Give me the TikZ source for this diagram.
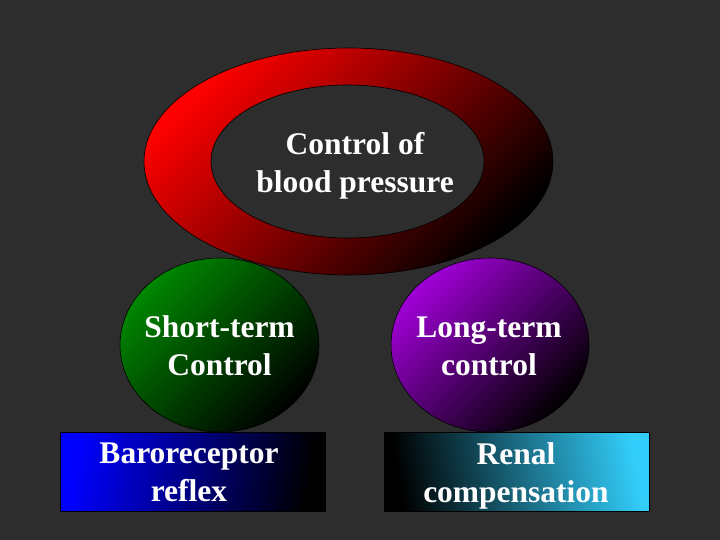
\documentclass[tikz,border=0pt]{standalone}
\usepackage{fontspec}
\setmainfont{Liberation Serif}
\usetikzlibrary{calc}
\definecolor{slidebg}{RGB}{45,45,45}
\definecolor{ringred}{RGB}{255,0,0}
\definecolor{shortgreen}{RGB}{0,135,0}
\definecolor{longpurple}{RGB}{160,0,215}
\definecolor{barblue}{RGB}{0,0,255}
\definecolor{renalcyan}{RGB}{50,205,250}
\tikzstyle{every node}=[font=\fontsize{31.5}{38}\selectfont\bfseries,text=white,align=center,inner sep=0pt]
\tikzstyle{every path}=[line width=0.6pt,line join=round]
\tikzstyle{outline}=[draw=black]

\begin{document}
\begin{tikzpicture}[x=1pt,y=-1pt]
    % Slide background
    \fill[slidebg] (0,0) rectangle (720,540);
    \useasboundingbox (0,0) rectangle (720,540);

    % Define named coordinates
    \coordinate (ring) at (348.5,161.5);
    \coordinate (hole) at (347.5,161.5);
    \coordinate (short) at (219.5,345);
    \coordinate (long) at (490,345);

    % Red ring with the title inside
    \shade[outline,top color=ringred,middle color=ringred!72!black,bottom color=black,shading angle=45]
    (ring) ellipse [x radius=204.5,y radius=113.5];
    \filldraw[fill=slidebg,draw=black] (hole) ellipse [x radius=136.5,y radius=76.5];
    \node (bp) at (355,166) {Control of\\blood pressure};

    % Short-term and long-term balls
    \shade[outline,top color=shortgreen,bottom color=black,shading angle=45]
    (short) ellipse [x radius=99.5,y radius=87];
    \shade[outline,top color=longpurple,bottom color=black,shading angle=45]
    (long) ellipse [x radius=99,y radius=87];
    \node (st) at (219.5,346) {Short-term\\Control};
    \node (lt) at (489,346) {Long-term\\control};

    % Mechanism boxes
    \shade[outline,left color=barblue,right color=black,shading angle=80]
    (60,432) rectangle (325,511);
    \shade[outline,left color=black,right color=renalcyan,shading angle=100]
    (384,432) rectangle (649,511);
    \node (baro) at (189,472) {Baroreceptor\\reflex};
    \node (renal) at (516,475.5) {Renal\\compensation};
\end{tikzpicture}
\end{document}
